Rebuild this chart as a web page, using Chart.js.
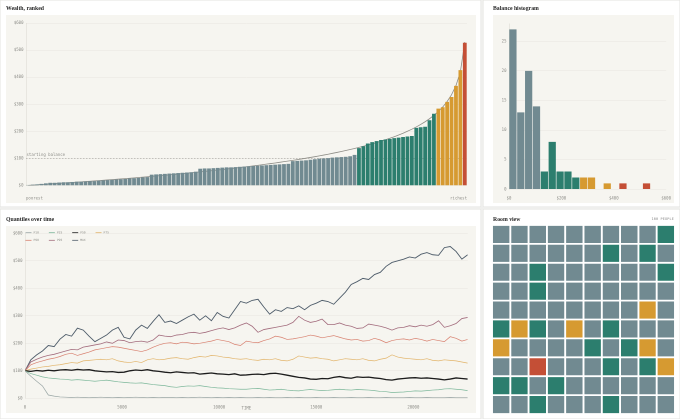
<!DOCTYPE html>
<html>
<head>
<meta charset="utf-8">
<script src="https://cdn.jsdelivr.net/npm/chart.js@4.4.0/dist/chart.umd.min.js"></script>
<style>
  html, body { margin: 0; padding: 0; background: #efefed; overflow: hidden; }
  #page { position: relative; width: 1360px; height: 838px; transform: scale(0.5); transform-origin: 0 0; }
  .card { position: absolute; background: #fff; border: 1.5px solid #e3e3e0; box-sizing: border-box; }
  .title { position: absolute; font-family: 'Liberation Serif', serif; font-weight: bold; font-size: 11.5px; color: #2a2a2a; }
  .note { position: absolute; font-family: 'DejaVu Sans Mono', monospace; font-size: 7px; color: #8a8a8a; letter-spacing: 0.3px; }
  canvas { position: absolute; }
  .cream { background: #f6f5f0; }
</style>
</head>
<body>
<div id="page">
  <div class="card" style="left:0;top:0;width:962px;height:414px"></div>
  <div class="card" style="left:966px;top:0;width:394px;height:414px"></div>
  <div class="card" style="left:0;top:418px;width:962px;height:420px"></div>
  <div class="card" style="left:966px;top:418px;width:394px;height:420px"></div>

  <div class="title" style="left:12px;top:10px">Wealth, ranked</div>
  <div class="title" style="left:986px;top:10px">Balance histogram</div>
  <div class="title" style="left:12px;top:431px">Quantiles over time</div>
  <div class="title" style="left:986px;top:431px">Room view</div>
  <div class="note" id="people" style="right:12px;top:434px"></div>

  <canvas id="ranked" class="cream" width="940" height="376" style="left:12px;top:30px"></canvas>
  <canvas id="hist" class="cream" width="362" height="376" style="left:986px;top:30px"></canvas>
  <canvas id="quant" class="cream" width="940" height="374" style="left:12px;top:452px"></canvas>
  <canvas id="room" width="366" height="378" style="left:984px;top:450px"></canvas>
</div>
<script>
// ---- data ----
var WEALTH = [2,3,4,6,8,
  10,10,11,12,12,13,14,14,15,16,16,18,19,20,21,22,23,24,26,27,28,30,31,
  40,41,42,43,44,45,46,47,48,49,51,
  62,63,63,64,65,66,67,67,68,69,70,71,
  72,73,74,75,76,77,78,79,80,
  90,91,92,93,95,97,99,100,101,103,104,105,106,108,113,
  138,145,155,160,164,168,170,172,175,177,179,181,183,213,215,217,241,265,
  284,289,309,327,368,426,
  527];
var EXPECTED = [0.5,1.5,2.5,3.6,4.6,5.7,6.7,7.8,8.9,10,
  11.1,12.2,13.4,14.5,15.7,16.8,18,19.2,20.5,21.7,
  22.9,24.2,25.5,26.8,28.1,29.4,30.8,32.2,33.6,35,
  36.4,37.8,39.3,40.8,42.3,43.9,45.4,47,48.6,50.3,
  51.9,53.6,55.3,57.1,58.9,60.7,62.6,64.4,66.4,68.3,
  70.3,72.4,74.4,76.6,78.8,81,83.2,85.6,88,90.4,
  92.9,95.5,98.1,100.8,103.6,106.4,109.4,112.4,115.5,118.8,
  122.1,125.6,129.2,132.8,136.6,140.7,144.8,149.2,153.7,158.5,
  163.5,168.7,174.3,180.2,186.4,193.1,200.3,207.9,216.3,225.4,
  235.4,246.5,259,273.3,290,310.1,335.2,368.9,420,529.8];
var STARTING_BALANCE = 100;
var RANK_ENDS = ['poorest', 'richest'];
var WEALTH_TICKS = [0,100,200,300,400,500,600];

var BIN_EDGES = [0,30,60,90,120,150,180,210,240,270,300,330,360,390,420,450,480,510,540,570];
var BIN_COUNTS = [27,13,20,14,3,8,3,3,2,2,2,0,1,0,1,0,0,1,0,0];
var HIST_X_TICKS = [0,200,400,600];

var TIME = [0,300,600,900,1200,1500,1800,2100,2400,2700,
  3000,3300,3600,3900,4200,4500,4800,5100,5400,5700,
  6000,6300,6600,6900,7200,7500,7800,8100,8400,8700,
  9000,9300,9600,9900,10200,10500,10800,11100,11400,11700,
  12000,12300,12600,12900,13200,13500,13800,14100,14400,14700,
  15000,15300,15600,15900,16200,16500,16800,17100,17400,17700,
  18000,18300,18600,18900,19200,19500,19800,20100,20400,20700,
  21000,21300,21600,21900,22200,22500,22800];
var TIME_TICKS = [0,5000,10000,15000,20000];
var P10 = [100,80,62,45,12,8,5,4,3,4,
  3,2,3,4,3,2,3,2,3,4,
  3,2,3,2,3,3,2,3,2,3,
  4,3,2,3,2,3,2,3,2,2,
  3,2,3,2,2,3,2,3,2,2,
  3,2,2,3,2,2,3,2,2,3,
  2,2,3,2,2,2,3,2,2,3,
  2,2,2,3,2,2,2];
var P25 = [100,90,84,78,74,72,70,69,66,68,
  66,64,62,64,66,63,60,58,56,55,
  56,53,50,48,46,42,40,43,45,44,
  46,43,40,38,37,35,34,33,33,35,
  36,33,30,31,33,30,28,27,30,32,
  30,28,29,31,33,31,30,32,31,30,
  28,25,24,21,22,23,25,27,26,28,
  30,31,34,35,33,31,28];
var P50 = [100,98,101,99,102,100,103,104,102,105,
  103,104,100,98,96,97,94,95,100,103,
  101,104,100,98,95,93,96,94,92,93,
  88,90,92,89,88,86,89,84,85,87,
  88,86,90,91,88,84,80,76,74,70,
  69,72,71,76,79,75,73,78,76,77,
  74,72,68,66,70,72,74,75,73,74,
  72,70,67,70,74,72,70];
var P75 = [100,106,110,114,116,120,122,126,130,128,
  136,138,140,142,140,144,136,132,130,134,
  130,140,144,140,142,146,148,144,142,148,
  152,150,156,154,150,148,144,142,144,140,
  138,142,140,144,138,136,142,154,150,146,
  148,144,142,136,140,144,142,140,144,138,
  136,142,146,158,150,146,144,142,140,144,
  138,136,140,138,136,132,128];
var P90 = [100,122,130,136,142,146,152,160,164,156,
  162,168,176,180,184,188,186,182,178,174,
  170,176,186,194,200,202,198,204,202,198,
  200,204,208,214,210,206,196,192,208,204,
  202,210,216,226,222,214,216,220,224,230,
  226,220,224,228,222,216,212,214,208,210,
  218,212,202,210,214,216,212,218,214,208,
  214,210,206,224,218,208,214];
var P95 = [100,132,142,150,156,160,166,172,178,176,
  186,190,194,198,205,200,212,210,202,206,
  208,204,212,230,226,224,230,232,238,240,
  236,240,246,252,256,250,256,266,274,262,
  240,250,254,258,262,266,276,298,284,276,
  280,288,268,268,274,266,262,254,256,270,
  266,262,256,248,256,258,264,260,266,262,
  268,282,258,264,272,290,294];
var MAX = [100,140,158,172,192,188,215,232,226,255,
  248,226,206,218,230,248,258,222,216,248,
  266,254,280,304,276,281,272,284,296,306,
  284,300,282,312,298,292,322,352,346,356,
  360,332,306,322,316,330,326,336,322,338,
  346,356,352,342,364,386,414,424,436,432,
  450,458,480,494,500,506,514,510,524,530,
  522,520,548,552,534,506,522];
var SERIES_NAMES = ['P10','P25','P50','P75','P90','P95','MAX'];

// G = bottom 75%, T = next 18%, O = next 6%, R = top 1%
var ROOM_ROWS = [
  'GGGGGGGGGT',
  'GGGGGGTGTG',
  'GGTGGGGGGT',
  'GGTGGGGGGG',
  'GGGGGGGGOG',
  'TOTGOGTGGG',
  'OGGGGTGTOG',
  'GGRGGGTGTO',
  'TTGTGGGGGG',
  'GGTGGGTGGG'
];

// ---- styling ----
var GRAY = '#718a91', TEAL = '#2c7e6e', ORANGE = '#d69a31', RED = '#c44f36';
var CELL = { G: GRAY, T: TEAL, O: ORANGE, R: RED };
var MONO = "'DejaVu Sans Mono', monospace";
var GRID = '#e8e6df';
var AXIS = '#d9d7cf';

Chart.defaults.font.family = MONO;
Chart.defaults.font.size = 8;
Chart.defaults.color = '#8d8d88';
Chart.defaults.animation = false;
Chart.defaults.plugins.legend.display = false;
Chart.defaults.plugins.tooltip.enabled = false;

function rankColor(i) {
  if (i < 75) return GRAY;
  if (i < 93) return TEAL;
  if (i < 99) return ORANGE;
  return RED;
}
function binColor(edge) {
  if (edge < 120) return GRAY;
  if (edge < 270) return TEAL;
  if (edge < 420) return ORANGE;
  return RED;
}
function fixedTicks(list) {
  return function(s) { s.ticks = list.map(function(v) { return { value: v }; }); };
}

// ---- wealth ranked ----
var startLine = {
  id: 'startLine',
  beforeDatasetsDraw: function(chart) {
    var ctx = chart.ctx, a = chart.chartArea;
    var y = chart.scales.y.getPixelForValue(STARTING_BALANCE);
    ctx.save();
    ctx.strokeStyle = '#a3a29c';
    ctx.lineWidth = 1.2;
    ctx.setLineDash([3, 3]);
    ctx.beginPath(); ctx.moveTo(a.left, y); ctx.lineTo(a.right, y); ctx.stroke();
    ctx.setLineDash([]);
    ctx.fillStyle = '#8d8d88';
    ctx.font = '8px ' + MONO;
    ctx.textBaseline = 'alphabetic';
    ctx.fillText('starting balance', a.left + 1, y - 5);
    ctx.restore();
  },
  afterDraw: function(chart) {
    var ctx = chart.ctx, a = chart.chartArea;
    ctx.save();
    ctx.fillStyle = '#8d8d88';
    ctx.font = '8px ' + MONO;
    ctx.textBaseline = 'middle';
    ctx.textAlign = 'left';
    ctx.fillText(RANK_ENDS[0], a.left, a.bottom + 26);
    ctx.textAlign = 'right';
    ctx.fillText(RANK_ENDS[1], a.right, a.bottom + 26);
    ctx.restore();
  }
};

new Chart(document.getElementById('ranked'), {
  type: 'bar',
  data: {
    labels: WEALTH.map(function(_, i) { return i + 1; }),
    datasets: [
      { type: 'line', data: EXPECTED, borderColor: '#8e8d87', borderWidth: 1.6,
        pointRadius: 0, tension: 0, order: 2 },
      { type: 'bar', data: WEALTH, backgroundColor: WEALTH.map(function(_, i) { return rankColor(i); }),
        categoryPercentage: 1, barPercentage: 0.86, order: 1 }
    ]
  },
  options: {
    responsive: false,
    layout: { padding: { top: 16, right: 18, left: 0, bottom: 0 } },
    scales: {
      x: { ticks: { display: false }, grid: { display: false }, border: { display: false },
           afterFit: function(s) { s.height = 35; } },
      y: { min: 0, max: 600,
           afterBuildTicks: fixedTicks(WEALTH_TICKS),
           ticks: { callback: function(v) { return '$' + v; }, padding: 5 },
           grid: { color: GRID, drawTicks: false }, border: { color: AXIS },
           afterFit: function(s) { s.width = 40; } }
    }
  },
  plugins: [startLine]
});

// ---- histogram ----
new Chart(document.getElementById('hist'), {
  type: 'bar',
  data: {
    datasets: [{
      data: BIN_EDGES.map(function(e, i) { return { x: e + 15, y: BIN_COUNTS[i] }; }),
      backgroundColor: BIN_EDGES.map(binColor),
      categoryPercentage: 1, barPercentage: 0.92
    }]
  },
  options: {
    responsive: false,
    layout: { padding: { top: 17, right: 14, left: 0, bottom: 0 } },
    scales: {
      x: { type: 'linear', min: 0, max: 600, offset: false,
           afterBuildTicks: fixedTicks(HIST_X_TICKS),
           ticks: { callback: function(v) { return '$' + v; }, padding: 6, autoSkip: false },
           grid: { display: false, offset: false }, border: { display: false },
           afterFit: function(s) { s.height = 27.4; } },
      y: { min: 0, max: 28, ticks: { stepSize: 5, includeBounds: false, padding: 5 },
           grid: { color: GRID, drawTicks: false }, border: { color: AXIS },
           afterFit: function(s) { s.width = 32; } }
    }
  }
});

// ---- quantiles ----
var quantLegend = {
  id: 'quantLegend',
  afterDraw: function(chart) {
    var ctx = chart.ctx, a = chart.chartArea;
    ctx.save();
    ctx.font = '6px ' + MONO;
    ctx.textBaseline = 'middle';
    chart.data.datasets.forEach(function(ds, i) {
      var row = i < 4 ? 0 : 1, col = i < 4 ? i : i - 4;
      var x = a.left + 1 + col * 46.7, y = a.top - 1.2 + row * 15.2;
      ctx.strokeStyle = ds.borderColor;
      ctx.lineWidth = 1.6;
      ctx.beginPath(); ctx.moveTo(x, y); ctx.lineTo(x + 12, y); ctx.stroke();
      ctx.fillStyle = '#8d8d88';
      ctx.fillText(ds.label, x + 16, y);
    });
    ctx.restore();
  }
};

var QCOLORS = ['#9aa6a5', '#7cb79a', '#1c1c1c', '#e2b46a', '#d8806f', '#a36c7d', '#4e5c6a'];
var QWIDTHS = [1.4, 1.4, 2.6, 1.4, 1.4, 1.6, 1.8];
var QDATA = [P10, P25, P50, P75, P90, P95, MAX];

new Chart(document.getElementById('quant'), {
  type: 'line',
  data: {
    datasets: QDATA.map(function(s, k) {
      return {
        label: SERIES_NAMES[k],
        data: TIME.map(function(t, i) { return { x: t, y: s[i] }; }),
        borderColor: QCOLORS[k], borderWidth: QWIDTHS[k],
        pointRadius: 0, tension: 0
      };
    })
  },
  options: {
    responsive: false,
    layout: { padding: { top: 14.6, right: 16.6, left: 0, bottom: 0 } },
    scales: {
      x: { type: 'linear', min: 0, max: 22800,
           afterBuildTicks: fixedTicks(TIME_TICKS),
           ticks: { callback: function(v) { return String(v); }, padding: 6, maxRotation: 0, autoSkip: false },
           title: { display: true, text: 'TIME', font: { size: 8 }, color: '#8d8d88', padding: { top: 0, bottom: 4 } },
           grid: { display: false }, border: { display: false },
           afterFit: function(s) { s.height = 29.4; } },
      y: { min: 0, max: 600, ticks: { stepSize: 100, callback: function(v) { return '$' + v; }, padding: 5 },
           grid: { color: GRID, drawTicks: false }, border: { color: AXIS },
           afterFit: function(s) { s.width = 38; } }
    }
  },
  plugins: [quantLegend]
});

// ---- room view ----
document.getElementById('people').textContent = ROOM_ROWS.join('').length + ' PEOPLE';

new Chart(document.getElementById('room'), {
  type: 'bar',
  data: {
    labels: ROOM_ROWS[0].split('').map(function(_, i) { return i + 1; }),
    datasets: ROOM_ROWS.slice().reverse().map(function(row) {
      var cells = row.split('');
      return {
        data: cells.map(function() { return 1; }),
        backgroundColor: cells.map(function(c) { return CELL[c]; }),
        borderColor: '#ffffff',
        borderWidth: { top: 1.8, bottom: 1.8, left: 0, right: 0 },
        borderSkipped: false,
        categoryPercentage: 0.905, barPercentage: 1
      };
    })
  },
  options: {
    responsive: false,
    layout: { padding: 0 },
    scales: {
      x: { stacked: true, display: false },
      y: { stacked: true, display: false, min: 0, max: 10 }
    }
  }
});
</script>
</body>
</html>
